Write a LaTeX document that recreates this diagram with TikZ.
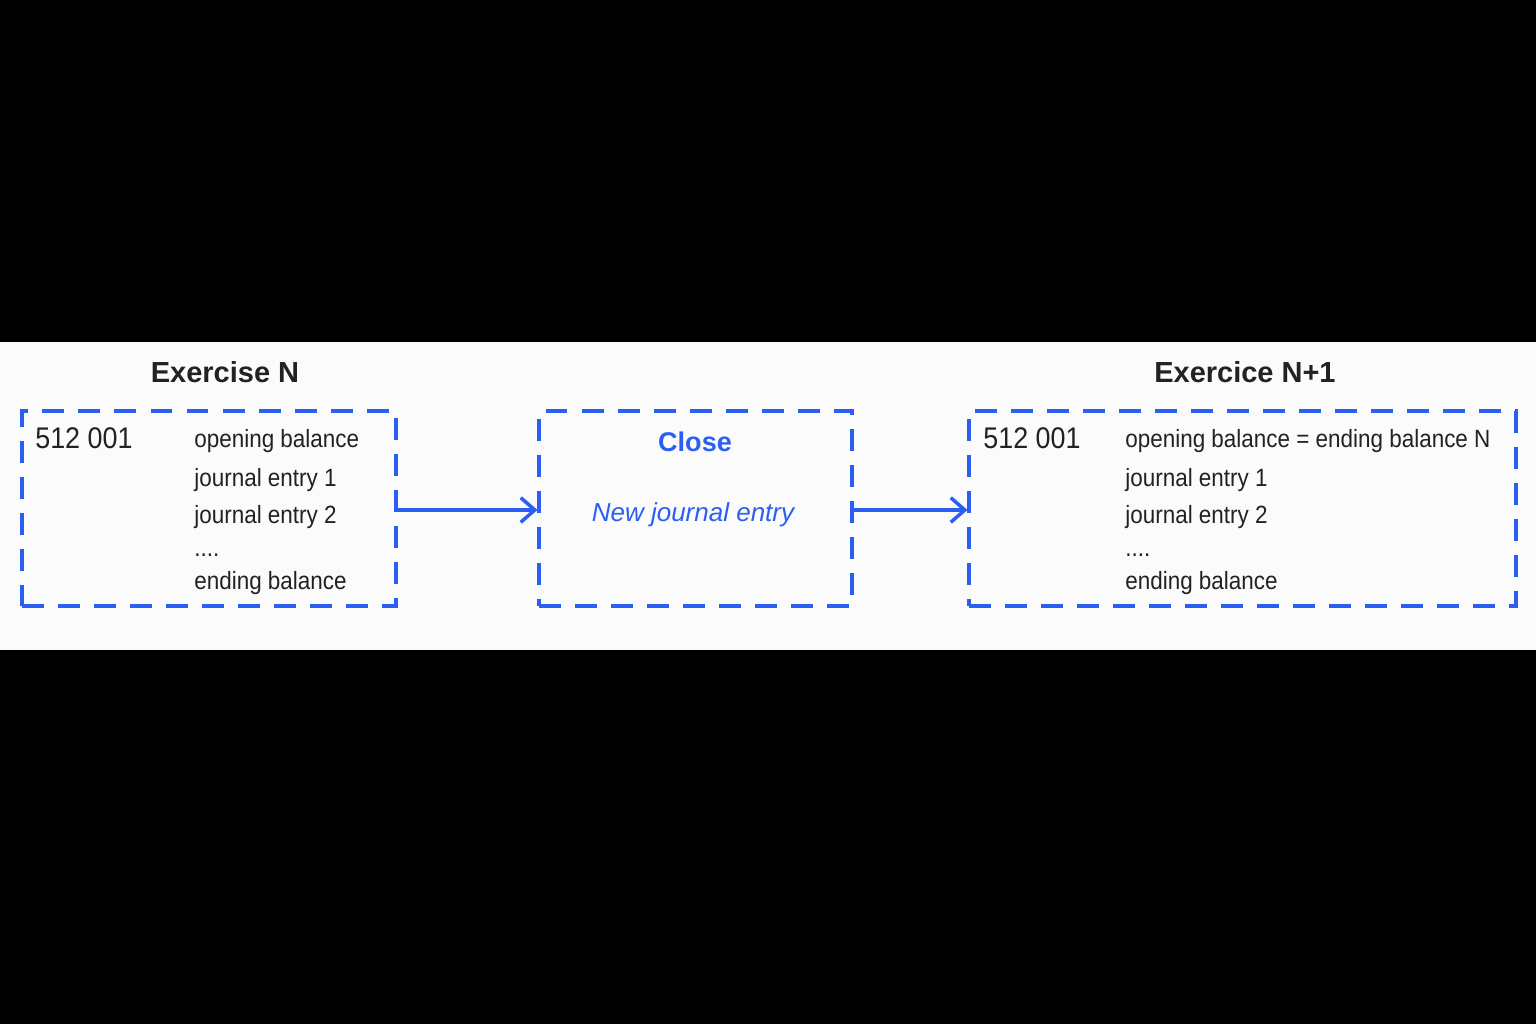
\documentclass[tikz,border=0pt]{standalone}
\usepackage{fontspec}
\setmainfont{Liberation Sans}
\newfontfamily\narrowfont[FakeStretch=0.9]{Liberation Sans}
\usepackage{xcolor}
\usetikzlibrary{arrows.meta}
\definecolor{ledgerblue}{HTML}{2B5FF2}
\definecolor{inkgray}{HTML}{222222}
\tikzset{
  ledgerbox/.style = {draw=ledgerblue, line width=1.8pt, dash pattern=on 12.5pt off 8pt,
    minimum height=3.9cm, inner sep=0pt},
  flow/.style = {draw=ledgerblue, line width=2pt,
    -{Straight Barb[length=8pt,width=14pt,line width=2pt]}},
  entry/.style = {anchor=base west, inner sep=0pt, text=inkgray,
    font=\narrowfont\fontsize{14.2}{16}\selectfont},
  account/.style = {anchor=base west, inner sep=0pt, text=inkgray,
    font=\narrowfont\fontsize{17}{20}\selectfont},
  heading/.style = {anchor=base, inner sep=0pt, text=inkgray,
    font=\bfseries\fontsize{16.5}{20}\selectfont}
}
\begin{document}
\begin{tikzpicture}[x=0.02cm,y=0.02cm]
  %%% background
  \fill[black] (0,0) rectangle (1536,1024);
  \fill[white!97!gray] (0,374) rectangle (1536,682);
  \useasboundingbox (0,0) rectangle (1536,1024);
  %%% headings
  \node[heading] (titleN) at (225,641) {Exercise N};
  \node[heading] (titleNext) at (1245,641) {Exercice N+1};
  %%% boxes
  \node[ledgerbox, minimum width=7.48cm] (boxN) at (209,515.5) {};
  \node[ledgerbox, minimum width=6.26cm] (boxClose) at (695.5,515.5) {};
  \node[ledgerbox, minimum width=10.94cm] (boxNext) at (1242.5,515.5) {};
  %%% exercise N
  \node[account] (accN) at (35,575) {512 001};
  \foreach \txt/\yy [count=\i] in {opening balance/576, journal entry 1/537,
      journal entry 2/500, {....}/467, ending balance/434} {
    \node[entry] (lineN\i) at (194,\yy) {\txt};
  }
  %%% close
  \node[anchor=base, inner sep=0pt, text=ledgerblue,
    font=\bfseries\fontsize{15.4}{18}\selectfont] (closeT) at (695,572) {Close};
  \node[anchor=base, inner sep=0pt, text=ledgerblue,
    font=\itshape\fontsize{14.8}{18}\selectfont] (closeE) at (693,502) {New journal entry};
  %%% exercise N+1
  \node[account] (accNext) at (983,575) {512 001};
  \foreach \txt/\yy [count=\i] in {opening balance = ending balance N/576,
      journal entry 1/537, journal entry 2/500, {....}/467, ending balance/434} {
    \node[entry] (lineNext\i) at (1125,\yy) {\txt};
  }
  %%% arrows
  \draw[flow] ([yshift=-0.03cm]boxN.east) -- ([yshift=-0.03cm]boxClose.west);
  \draw[flow] ([yshift=-0.03cm]boxClose.east) -- ([yshift=-0.03cm]boxNext.west);
\end{tikzpicture}
\end{document}
